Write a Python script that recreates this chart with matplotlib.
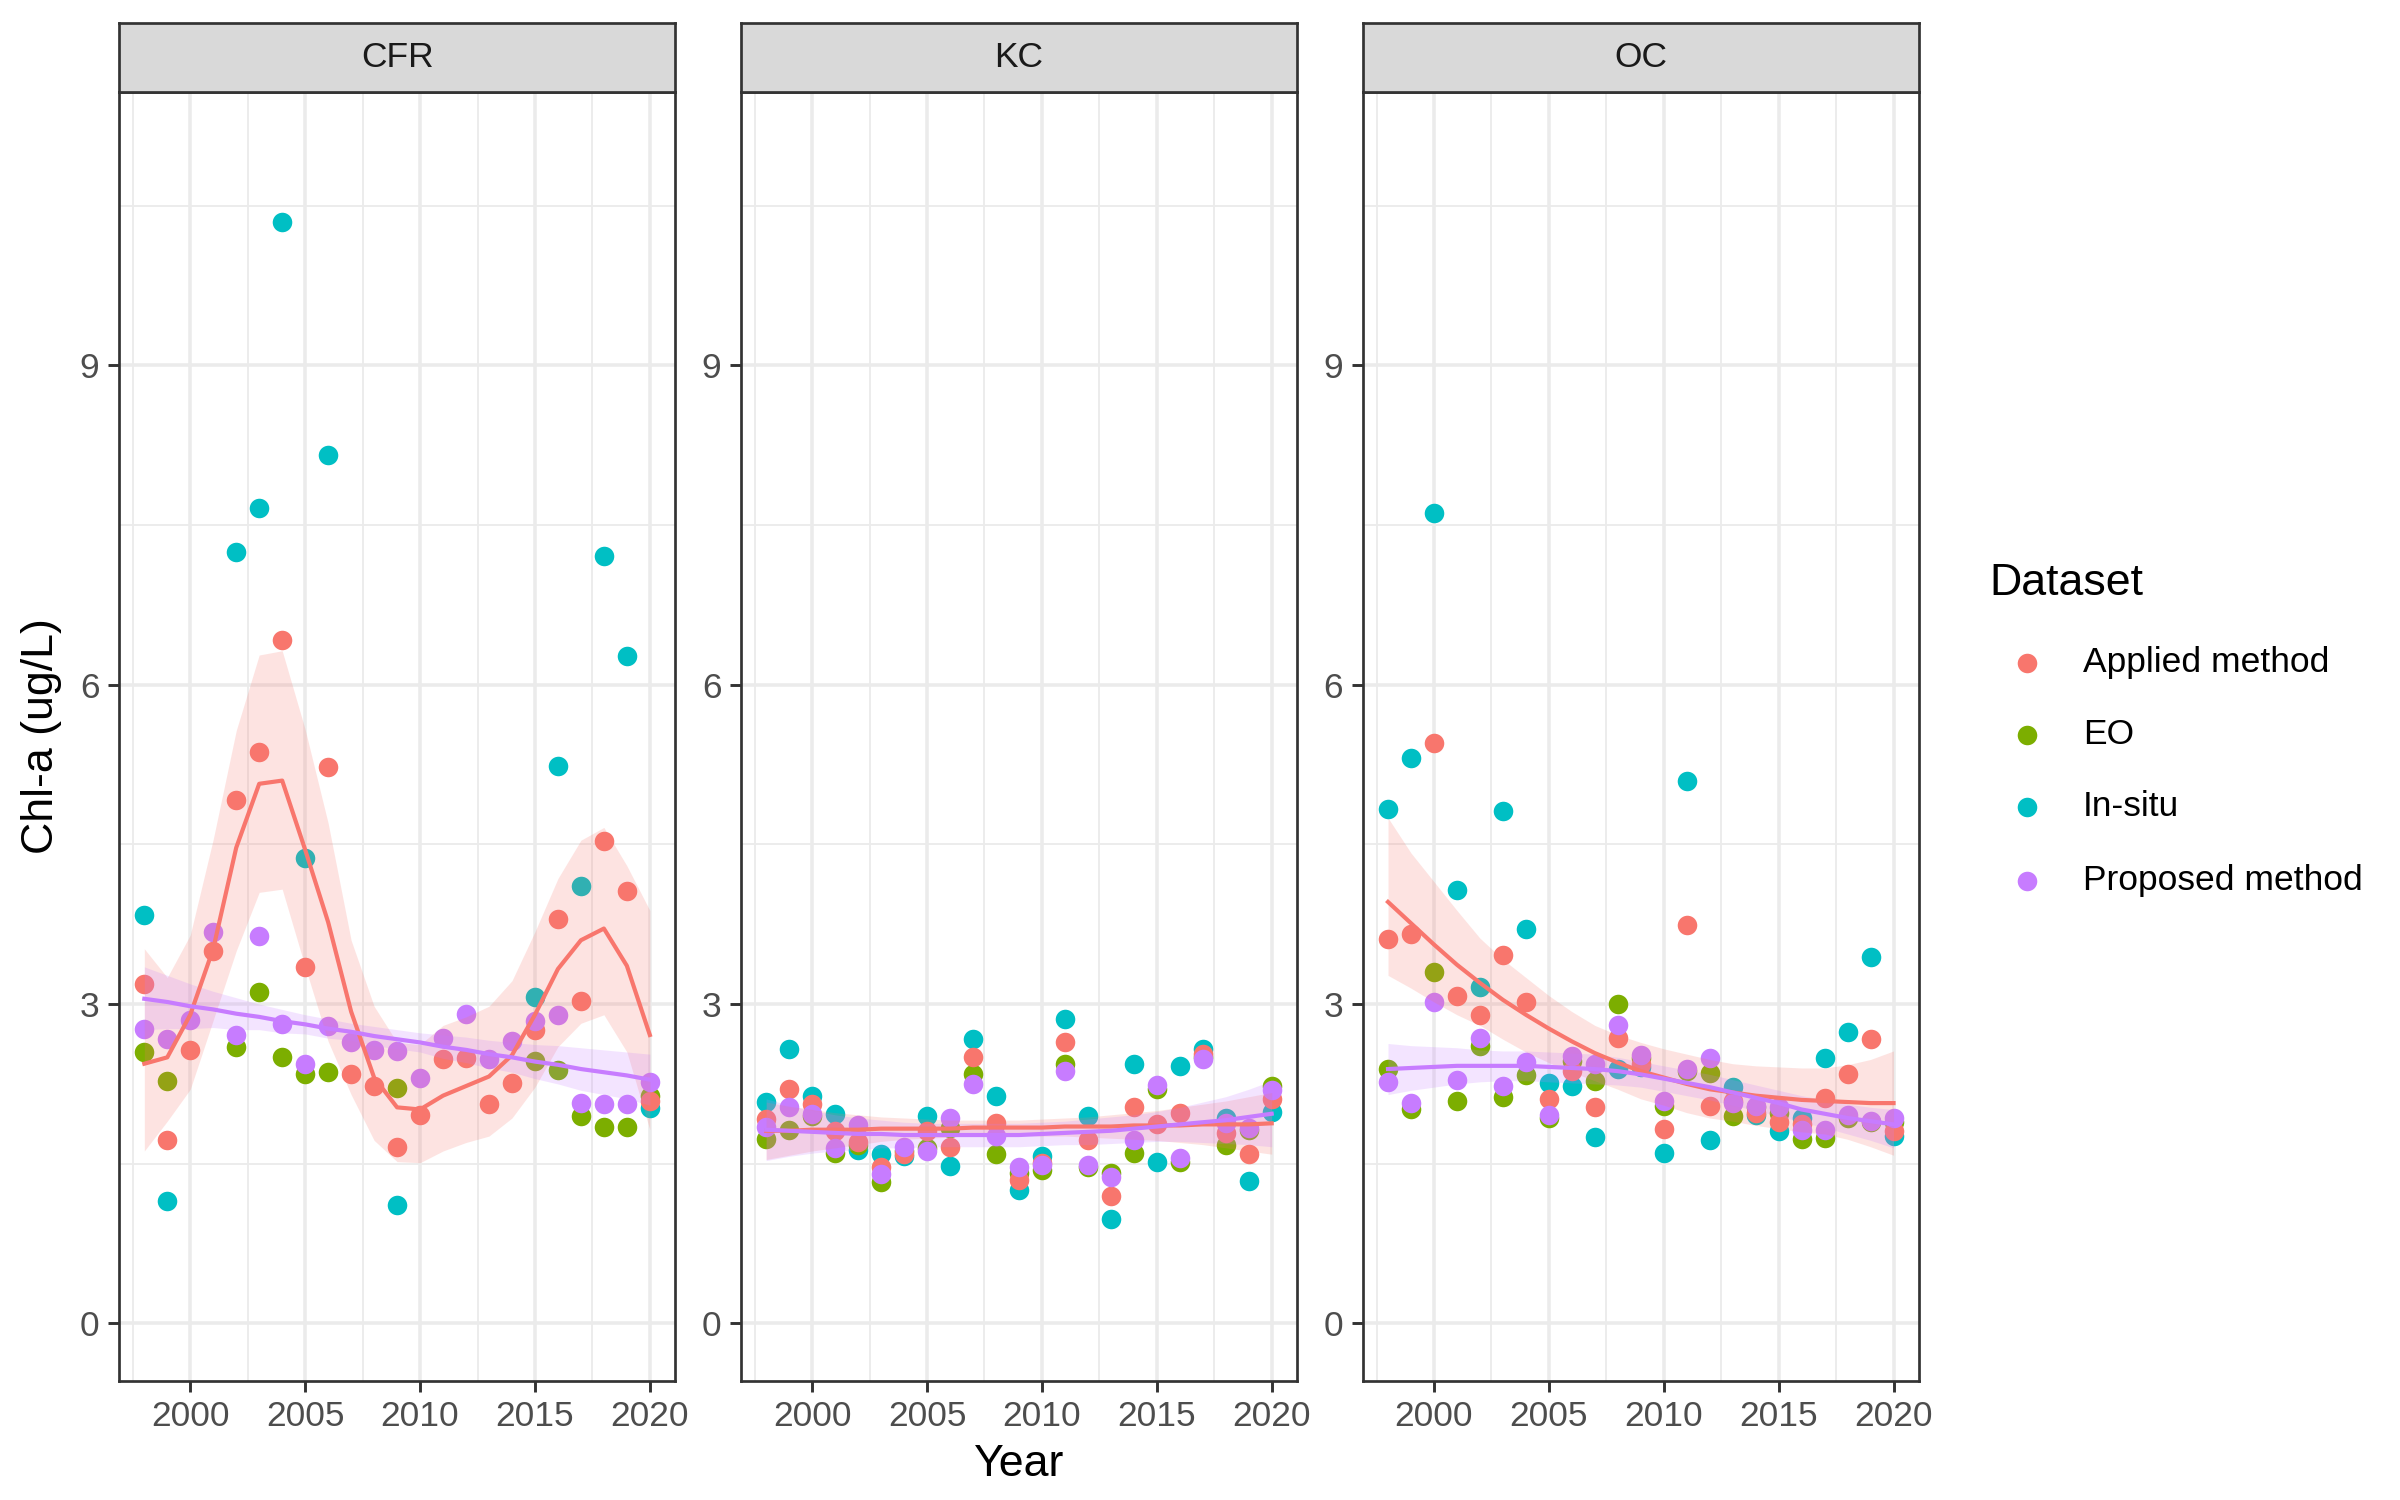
import numpy as np
import matplotlib
matplotlib.use("Agg")
import matplotlib.pyplot as plt

nan = np.nan
years = list(range(1998, 2021))
regions = ["CFR", "KC", "OC"]
datasets = ["Applied method", "EO", "In-situ", "Proposed method"]
colors = {"Applied method": "#F8766D", "EO": "#7CAE00", "In-situ": "#00BFC4", "Proposed method": "#C77CFF"}

# ---- observed values (ug/L) ----
cfr_applied = [3.19, 1.72, 2.57, 3.50, 4.92, 5.37, 6.42, 3.35, 5.23, 2.34, 2.23, 1.66, 1.96, 2.48, 2.49, 2.06, 2.26, 2.76, 3.80, 3.03, 4.53, 4.06, 2.09]
cfr_eo = [2.55, 2.28, nan, nan, 2.60, 3.11, 2.50, 2.34, 2.36, nan, nan, 2.21, nan, nan, nan, nan, nan, 2.47, 2.38, 1.95, 1.85, 1.85, 2.14]
cfr_insitu = [3.84, 1.15, nan, nan, 7.25, 7.66, 10.35, 4.37, 8.16, nan, nan, 1.11, nan, nan, nan, nan, nan, 3.07, 5.24, 4.11, 7.21, 6.27, 2.02]
cfr_proposed = [2.77, 2.67, 2.85, 3.68, 2.71, 3.64, 2.81, 2.44, 2.79, 2.64, 2.57, 2.56, 2.31, 2.68, 2.91, 2.48, 2.65, 2.84, 2.90, 2.07, 2.06, 2.06, 2.27]

kc_applied = [1.92, 2.20, 2.06, 1.81, 1.70, 1.47, 1.59, 1.81, 1.66, 2.50, 1.88, 1.35, 1.51, 2.64, 1.72, 1.20, 2.03, 1.87, 1.98, 2.53, 1.79, 1.59, 2.11]
kc_eo = [1.73, 1.82, 1.95, 1.60, 1.68, 1.33, 1.62, 1.65, 1.84, 2.34, 1.59, 1.41, 1.44, 2.44, 1.47, 1.41, 1.60, 2.20, 1.52, 2.50, 1.68, 1.82, 2.23]
kc_insitu = [2.08, 2.58, 2.14, 1.97, 1.63, 1.59, 1.57, 1.95, 1.48, 2.67, 2.14, 1.25, 1.57, 2.86, 1.95, 0.98, 2.44, 1.52, 2.42, 2.58, 1.93, 1.34, 1.99]
kc_proposed = [1.85, 2.03, 1.97, 1.65, 1.86, 1.40, 1.66, 1.62, 1.93, 2.25, 1.76, 1.47, 1.49, 2.37, 1.49, 1.38, 1.72, 2.24, 1.55, 2.48, 1.88, 1.84, 2.19]

oc_applied = [3.61, 3.66, 5.45, 3.08, 2.90, 3.46, 3.02, 2.11, 2.37, 2.03, 2.68, 2.44, 1.83, 3.74, 2.04, 2.09, 1.98, 1.89, 1.87, 2.12, 2.34, 2.67, 1.81]
oc_eo = [2.39, 2.01, 3.30, 2.09, 2.61, 2.13, 2.33, 1.93, 2.47, 2.28, 3.00, 2.49, 2.04, 2.37, 2.35, 1.95, 2.03, 1.98, 1.73, 1.74, 1.93, 1.89, 1.89]
oc_insitu = [4.83, 5.31, 7.61, 4.07, 3.16, 4.81, 3.71, 2.26, 2.23, 1.75, 2.39, 2.41, 1.60, 5.10, 1.72, 2.22, 1.96, 1.81, 1.93, 2.49, 2.74, 3.44, 1.76]
oc_proposed = [2.27, 2.07, 3.02, 2.29, 2.68, 2.23, 2.46, 1.96, 2.51, 2.44, 2.80, 2.52, 2.09, 2.39, 2.49, 2.07, 2.04, 2.03, 1.82, 1.82, 1.96, 1.90, 1.93]

# ---- smoothed trends (fit, lower, upper) ----
cfr_applied_fit = [2.44, 2.50, 2.90, 3.52, 4.47, 5.07, 5.10, 4.45, 3.77, 2.93, 2.31, 2.03, 2.01, 2.14, 2.23, 2.32, 2.52, 2.90, 3.33, 3.60, 3.71, 3.36, 2.71]
cfr_applied_lo = [1.62, 1.90, 2.20, 2.85, 3.50, 4.05, 4.08, 3.35, 2.65, 2.15, 1.72, 1.52, 1.51, 1.62, 1.70, 1.76, 1.93, 2.22, 2.60, 2.82, 2.90, 2.55, 1.82]
cfr_applied_hi = [3.52, 3.25, 3.65, 4.55, 5.57, 6.28, 6.32, 5.58, 4.70, 3.60, 2.98, 2.64, 2.62, 2.80, 2.88, 2.98, 3.22, 3.68, 4.18, 4.54, 4.66, 4.30, 3.88]
cfr_proposed_fit = [3.05, 3.02, 2.98, 2.95, 2.91, 2.88, 2.84, 2.81, 2.77, 2.74, 2.70, 2.67, 2.64, 2.60, 2.57, 2.53, 2.50, 2.46, 2.43, 2.39, 2.36, 2.33, 2.29]
cfr_proposed_lo = [2.76, 2.77, 2.77, 2.78, 2.76, 2.76, 2.73, 2.72, 2.68, 2.66, 2.61, 2.58, 2.55, 2.49, 2.45, 2.40, 2.36, 2.30, 2.25, 2.19, 2.15, 2.11, 2.05]
cfr_proposed_hi = [3.35, 3.27, 3.19, 3.12, 3.06, 3.00, 2.95, 2.90, 2.86, 2.82, 2.79, 2.76, 2.73, 2.71, 2.69, 2.66, 2.64, 2.62, 2.61, 2.59, 2.57, 2.55, 2.53]

kc_applied_fit = [1.81, 1.81, 1.82, 1.82, 1.82, 1.83, 1.83, 1.83, 1.83, 1.84, 1.84, 1.84, 1.84, 1.85, 1.85, 1.85, 1.86, 1.86, 1.86, 1.87, 1.87, 1.87, 1.88]
kc_applied_lo = [1.54, 1.58, 1.62, 1.65, 1.68, 1.71, 1.73, 1.74, 1.75, 1.77, 1.77, 1.77, 1.76, 1.76, 1.75, 1.74, 1.73, 1.72, 1.70, 1.68, 1.65, 1.62, 1.59]
kc_applied_hi = [2.08, 2.04, 2.01, 1.98, 1.96, 1.94, 1.93, 1.92, 1.91, 1.91, 1.91, 1.91, 1.92, 1.93, 1.94, 1.96, 1.98, 2.00, 2.03, 2.06, 2.09, 2.13, 2.17]
kc_proposed_fit = [1.82, 1.81, 1.80, 1.79, 1.78, 1.78, 1.77, 1.77, 1.77, 1.77, 1.77, 1.77, 1.78, 1.79, 1.80, 1.81, 1.83, 1.85, 1.87, 1.89, 1.91, 1.94, 1.97]
kc_proposed_lo = [1.53, 1.57, 1.60, 1.62, 1.63, 1.65, 1.65, 1.66, 1.66, 1.66, 1.66, 1.66, 1.67, 1.68, 1.68, 1.69, 1.70, 1.71, 1.71, 1.70, 1.69, 1.68, 1.66]
kc_proposed_hi = [2.11, 2.05, 2.00, 1.96, 1.93, 1.91, 1.89, 1.88, 1.88, 1.88, 1.88, 1.88, 1.89, 1.90, 1.92, 1.94, 1.96, 1.99, 2.03, 2.08, 2.13, 2.20, 2.28]

oc_applied_fit = [3.96, 3.76, 3.56, 3.37, 3.20, 3.04, 2.90, 2.77, 2.65, 2.54, 2.45, 2.37, 2.31, 2.25, 2.20, 2.17, 2.14, 2.12, 2.10, 2.09, 2.08, 2.07, 2.07]
oc_applied_lo = [3.27, 3.15, 3.02, 2.90, 2.80, 2.67, 2.55, 2.45, 2.36, 2.28, 2.20, 2.11, 2.05, 1.98, 1.93, 1.90, 1.86, 1.83, 1.80, 1.78, 1.73, 1.66, 1.58]
oc_applied_hi = [4.75, 4.42, 4.15, 3.88, 3.62, 3.42, 3.25, 3.08, 2.93, 2.80, 2.71, 2.64, 2.58, 2.53, 2.48, 2.44, 2.42, 2.41, 2.40, 2.40, 2.43, 2.48, 2.56]
oc_proposed_fit = [2.39, 2.40, 2.41, 2.42, 2.42, 2.42, 2.42, 2.41, 2.40, 2.39, 2.37, 2.34, 2.30, 2.26, 2.22, 2.17, 2.12, 2.07, 2.01, 1.97, 1.93, 1.90, 1.87]
oc_proposed_lo = [2.15, 2.19, 2.22, 2.25, 2.27, 2.28, 2.28, 2.27, 2.26, 2.25, 2.24, 2.22, 2.18, 2.14, 2.10, 2.05, 2.00, 1.95, 1.89, 1.84, 1.78, 1.72, 1.65]
oc_proposed_hi = [2.63, 2.61, 2.60, 2.59, 2.57, 2.56, 2.56, 2.55, 2.54, 2.53, 2.50, 2.46, 2.42, 2.38, 2.34, 2.29, 2.24, 2.19, 2.14, 2.10, 2.06, 2.03, 2.01]

obs = {
    "CFR": {"Applied method": cfr_applied, "EO": cfr_eo, "In-situ": cfr_insitu, "Proposed method": cfr_proposed},
    "KC": {"Applied method": kc_applied, "EO": kc_eo, "In-situ": kc_insitu, "Proposed method": kc_proposed},
    "OC": {"Applied method": oc_applied, "EO": oc_eo, "In-situ": oc_insitu, "Proposed method": oc_proposed},
}
smooth = {
    "CFR": {"Applied method": (cfr_applied_fit, cfr_applied_lo, cfr_applied_hi),
            "Proposed method": (cfr_proposed_fit, cfr_proposed_lo, cfr_proposed_hi)},
    "KC": {"Applied method": (kc_applied_fit, kc_applied_lo, kc_applied_hi),
           "Proposed method": (kc_proposed_fit, kc_proposed_lo, kc_proposed_hi)},
    "OC": {"Applied method": (oc_applied_fit, oc_applied_lo, oc_applied_hi),
           "Proposed method": (oc_proposed_fit, oc_proposed_lo, oc_proposed_hi)},
}

plt.rcParams["font.family"] = ["Liberation Sans", "DejaVu Sans"]
fig = plt.figure(figsize=(16, 10), dpi=150)
fig.patch.set_facecolor("white")

left0, step, width = 0.0496, 0.2591, 0.2317
bottom, top = 0.0794, 0.9387
height = top - bottom
strip_h = 0.046
grid_col = "#EBEBEB"
dark = "#333333"
draw_order = ["In-situ", "EO", "Applied method", "Proposed method"]
tick_fs = 17
title_fs = 21.5
pt_size = 88

for i, reg in enumerate(regions):
    x0 = left0 + i * step
    ax = fig.add_axes([x0, bottom, width, height])
    ax.set_xlim(1996.9, 2021.1)
    ax.set_ylim(-0.54, 11.57)
    ax.set_xticks([2000, 2005, 2010, 2015, 2020])
    ax.set_xticks([1997.5, 2002.5, 2007.5, 2012.5, 2017.5], minor=True)
    ax.set_yticks([0, 3, 6, 9])
    ax.set_yticks([1.5, 4.5, 7.5, 10.5], minor=True)
    ax.grid(True, which="major", color=grid_col, lw=1.7, zorder=0)
    ax.grid(True, which="minor", color=grid_col, lw=0.9, zorder=0)
    ax.set_axisbelow(True)
    ax.tick_params(which="major", length=5.4, width=1.4, color=dark, labelsize=tick_fs,
                   labelcolor="#4D4D4D", pad=4)
    ax.tick_params(which="minor", length=0)
    for s in ax.spines.values():
        s.set_color(dark)
        s.set_linewidth(1.3)
    for ds in draw_order:
        ax.scatter(years, obs[reg][ds], s=pt_size, color=colors[ds], linewidths=0, zorder=2)
    for ds in ["Applied method", "Proposed method"]:
        fit, lo, hi = smooth[reg][ds]
        ax.fill_between(years, lo, hi, color=colors[ds], alpha=0.2, lw=0, zorder=3)
        ax.plot(years, fit, color=colors[ds], lw=2.0, zorder=4, solid_joinstyle="round")

    sax = fig.add_axes([x0, top, width, strip_h])
    sax.set_facecolor("#D9D9D9")
    sax.set_xticks([])
    sax.set_yticks([])
    for s in sax.spines.values():
        s.set_color(dark)
        s.set_linewidth(1.3)
    sax.text(0.5, 0.5, reg, ha="center", va="center", fontsize=tick_fs, color="#1A1A1A",
             transform=sax.transAxes)

fig.text(0.0174, bottom + height / 2, "Chl-a (ug/L)", rotation=90, ha="center", va="center",
         fontsize=title_fs, color="black")
fig.text(left0 + (2 * step + width) / 2, 0.024, "Year", ha="center", va="center",
         fontsize=title_fs, color="black")

# legend
lax = fig.add_axes([0, 0, 1, 1], facecolor="none")
lax.set_xlim(0, 1)
lax.set_ylim(0, 1)
lax.axis("off")
fig.text(0.829, 0.611, "Dataset", ha="left", va="center", fontsize=title_fs, color="black")
ys = [0.558, 0.510, 0.462, 0.413]
for ds, yy in zip(datasets, ys):
    lax.scatter([0.8445], [yy], s=pt_size, color=colors[ds], linewidths=0)
    fig.text(0.868, yy, ds, ha="left", va="center", fontsize=tick_fs, color="black")

fig.savefig("out.png", dpi=150, facecolor="white")
